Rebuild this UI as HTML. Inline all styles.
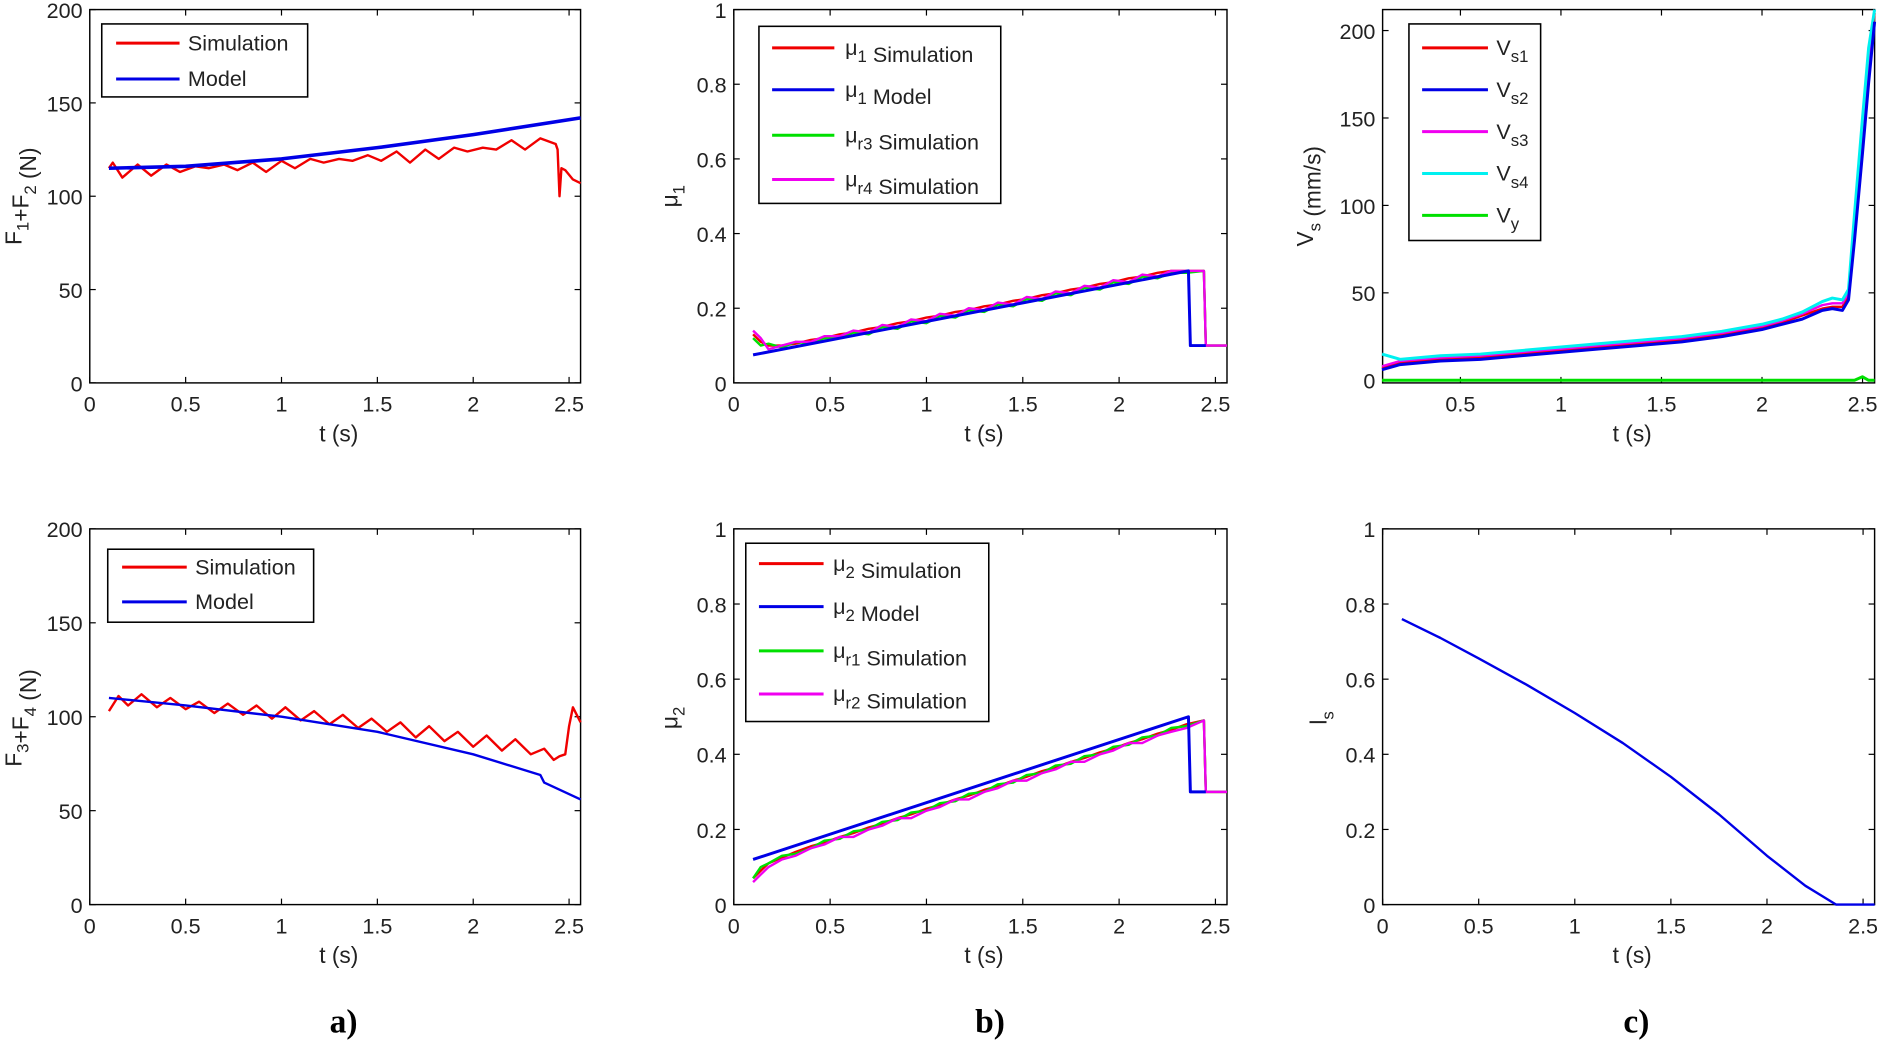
<!DOCTYPE html>
<html><head><meta charset="utf-8"><style>
html,body{margin:0;padding:0;background:#fff;}
svg{display:block;font-family:"Liberation Sans",sans-serif;}
</style></head><body>
<svg id="fig" width="1877" height="1041" viewBox="0 0 1568 870" preserveAspectRatio="none" xmlns="http://www.w3.org/2000/svg"></svg>
<script>
// ---- data ----
const tA=[0.10,0.12,0.17,0.25,0.32,0.40,0.47,0.55,0.62,0.70,0.77,0.85,0.92,1.00,1.07,1.15,1.22,1.30,1.37,1.45,1.52,1.60,1.67,1.75,1.82,1.90,1.97,2.05,2.12,2.20,2.27,2.35,2.43,2.44,2.45,2.46,2.48,2.52,2.56];
const simF12=[115,118,110,117,111,117,113,116,115,117,114,118,113,119,115,120,118,120,119,122,119,124,118,125,120,126,124,126,125,130,125,131,128,125,100,115,114,109,107];
const tModelA=[0.1,0.5,1,1.5,2,2.56];
const modelF12=[115,116,120,126,133,142];
const tB=[0.10,0.15,0.20,0.27,0.35,0.42,0.50,0.57,0.65,0.72,0.80,0.87,0.95,1.02,1.10,1.17,1.25,1.32,1.40,1.47,1.55,1.62,1.70,1.77,1.85,1.92,2.00,2.07,2.15,2.22,2.30,2.37,2.42,2.45,2.48,2.50,2.52,2.56];
const simF34=[103,111,106,112,105,110,104,108,102,107,101,106,99,105,98,103,96,101,94,99,92,97,89,95,87,92,84,90,82,88,80,83,77,79,80,95,105,97];
const tModelB=[0.1,0.5,1,1.5,2,2.35,2.37,2.56];
const modelF34=[110,106,100,92,80,69,65,56];
const tMu=[0.10,0.14,0.18,0.25,0.32,0.40,0.47,0.55,0.62,0.70,0.77,0.85,0.92,1.00,1.07,1.15,1.22,1.30,1.37,1.45,1.52,1.60,1.67,1.75,1.82,1.90,1.97,2.05,2.12,2.20,2.27,2.35,2.44,2.45,2.56];
const mu1Sim=[0.13,0.11,0.10,0.10,0.105,0.115,0.12,0.13,0.135,0.145,0.15,0.16,0.165,0.175,0.18,0.19,0.195,0.205,0.21,0.22,0.225,0.235,0.24,0.25,0.255,0.265,0.27,0.28,0.285,0.295,0.30,0.30,0.30,0.10,0.10];
const mur3Sim=[0.12,0.10,0.105,0.095,0.11,0.105,0.12,0.12,0.135,0.13,0.15,0.145,0.165,0.16,0.18,0.175,0.195,0.19,0.21,0.205,0.225,0.22,0.24,0.235,0.255,0.25,0.27,0.265,0.285,0.28,0.295,0.295,0.30,0.10,0.10];
const mur4Sim=[0.14,0.12,0.09,0.10,0.11,0.11,0.125,0.125,0.14,0.135,0.155,0.15,0.17,0.165,0.185,0.18,0.20,0.195,0.215,0.21,0.23,0.225,0.245,0.24,0.26,0.255,0.275,0.27,0.29,0.285,0.30,0.30,0.30,0.10,0.10];
const tMuModel=[0.1,2.36,2.37,2.45];
const mu1Model=[0.075,0.30,0.10,0.10];
const mu2Sim=[0.07,0.09,0.11,0.125,0.14,0.155,0.165,0.18,0.19,0.205,0.215,0.23,0.24,0.255,0.265,0.28,0.29,0.305,0.315,0.33,0.34,0.355,0.365,0.38,0.39,0.405,0.415,0.43,0.44,0.455,0.465,0.48,0.49,0.30,0.30];
const mur1Sim=[0.07,0.10,0.11,0.13,0.135,0.15,0.17,0.175,0.195,0.20,0.22,0.225,0.245,0.25,0.27,0.275,0.295,0.30,0.32,0.325,0.345,0.35,0.37,0.375,0.395,0.40,0.42,0.425,0.445,0.45,0.47,0.475,0.49,0.30,0.30];
const mur2Sim=[0.06,0.08,0.10,0.12,0.13,0.15,0.16,0.18,0.18,0.20,0.21,0.23,0.23,0.25,0.26,0.28,0.28,0.30,0.31,0.33,0.33,0.35,0.36,0.38,0.38,0.40,0.41,0.43,0.43,0.45,0.46,0.47,0.49,0.30,0.30];
const mu2Model=[0.12,0.50,0.30,0.30];
const tV=[0.11,0.2,0.4,0.6,0.8,1.0,1.2,1.4,1.6,1.8,2.0,2.1,2.2,2.3,2.35,2.4,2.43,2.46,2.5,2.53,2.56];
const vs1=[7,10,12,13,15,17,19,21,23,26,30,33,37,41,42,42,48,85,140,180,210];
const vs2=[6,9,11,12,14,16,18,20,22,25,29,32,35,40,41,40,46,80,130,170,205];
const vs3=[8,11,13,14,16,18,20,22,24,27,31,34,38,43,44,44,50,90,145,185,212];
const vs4=[15,12,14,15,17,19,21,23,25,28,32,35,39,45,47,46,52,95,150,190,212];
const vy=[0,0,0,0,0,0,0,0,0,0,0,0,0,0,0,0,0,0,2,0,0];
const tL=[0.1,0.3,0.5,0.75,1.0,1.25,1.5,1.75,2.0,2.2,2.36,2.56];
const ls=[0.76,0.71,0.655,0.585,0.51,0.43,0.34,0.24,0.13,0.05,0,0];
const xTicks=[0,0.5,1,1.5,2,2.5];
const xTickLabels=["0","0.5","1","1.5","2","2.5"];
const yTicksF=[0,50,100,150,200];
const yTicksMu=[0,0.2,0.4,0.6,0.8,1];
const yTickMuLabels=["0","0.2","0.4","0.6","0.8","1"];
const yTicksV=[0,50,100,150,200];

const NS="http://www.w3.org/2000/svg";
const svg=document.getElementById('fig');
function mk(tag,attrs,parent){const e=document.createElementNS(NS,tag);for(const k in attrs)e.setAttribute(k,attrs[k]);(parent||svg).appendChild(e);return e;}

function panel(name,box,xd,yd,yt,ytl){
  const g=mk('g',{});
  
  
  const sx=v=>box.l+(v-xd[0])/(xd[1]-xd[0])*(box.r-box.l);
  const sy=v=>box.b-(v-yd[0])/(yd[1]-yd[0])*(box.b-box.t);
  const f=mk('rect',{x:box.l,y:box.t,width:box.r-box.l,height:box.b-box.t,fill:'#fff',stroke:'#000','stroke-width':1.2},g);
  
  
  xTicks.forEach((v,i)=>{
    if(v<xd[0]-1e-9||v>xd[1])return;
    const x=sx(v);
    mk('line',{x1:x,x2:x,y1:box.b,y2:box.b-5,stroke:'#000'},g);
    mk('line',{x1:x,x2:x,y1:box.t,y2:box.t+5,stroke:'#000'},g);
    const t=mk('text',{x:x,y:box.b+24,'font-size':18,'text-anchor':'middle',fill:'#222'},g);
    t.textContent=xTickLabels[i];
    
    
  });
  yt.forEach((v,i)=>{
    const y=sy(v);
    mk('line',{x1:box.l,x2:box.l+5,y1:y,y2:y,stroke:'#000'},g);
    mk('line',{x1:box.r,x2:box.r-5,y1:y,y2:y,stroke:'#000'},g);
    const t=mk('text',{x:box.l-6,y:y+7,'font-size':18,'text-anchor':'end',fill:'#222'},g);
    t.textContent=ytl[i];
    
    
  });
  const xl=mk('text',{x:(box.l+box.r)/2+3,y:box.b+49,'font-size':19,'text-anchor':'middle',fill:'#222'},g);
  xl.textContent='t (s)';
  
  
  return {g,sx,sy,box};
}
function series(p,name,xs,ys,color,w){
  const d=xs.map((x,i)=>(i?'L':'M')+p.sx(x).toFixed(1)+' '+p.sy(ys[i]).toFixed(1)).join(' ');
  const e=mk('path',{d:d,fill:'none',stroke:color,'stroke-width':w||2,'stroke-linejoin':'round'},p.g);
  
  
}
function ylabel(x,y,html){
  const t=mk('text',{x:0,y:0,'font-size':19,'text-anchor':'middle',fill:'#222',transform:`translate(${x},${y}) rotate(-90)`});
  t.innerHTML=html;
  
  
}
function legend(name,x,y,w,h,items,lx1,lx2,tx){
  const g=mk('g',{});
  
  
  mk('rect',{x:x,y:y,width:w,height:h,fill:'#fff',stroke:'#000','stroke-width':1.3},g);
  items.forEach(it=>{
    const l=mk('line',{x1:lx1,x2:lx2,y1:it[0],y2:it[0],stroke:it[1],'stroke-width':2.5},g);
    
    
    const t=mk('text',{x:tx,y:it[0]+6,'font-size':18,fill:'#222'},g);
    t.innerHTML=it[2];
    
    
  });
}
const sub=(s)=>`<tspan dy="6" font-size="14">${s}</tspan><tspan dy="-6"></tspan>`;

// a-top
let p=panel('panel-f1-f2',{l:75,r:485,t:8,b:320},[0,2.56],[0,200],yTicksF,yTicksF.map(String));
series(p,'simulation-line',tA,simF12,'#f00000',2);
series(p,'model-line',tModelA,modelF12,'#0000e6',3);
ylabel(18,164,'F'+sub('1')+'+F'+sub('2')+' (N)');
legend('legend-f12',85,20,172,61,[[36,'#f00000','Simulation'],[66,'#0000e6','Model']],97,150,157);

// a-bottom
p=panel('panel-f3-f4',{l:75,r:485,t:442,b:756},[0,2.56],[0,200],yTicksF,yTicksF.map(String));
series(p,'simulation-line',tB,simF34,'#f00000',2);
series(p,'model-line',tModelB,modelF34,'#0000e6',2);
ylabel(18,600,'F'+sub('3')+'+F'+sub('4')+' (N)');
legend('legend-f34',90,459,172,61,[[474,'#f00000','Simulation'],[503,'#0000e6','Model']],102,156,163);

// b-top
p=panel('panel-mu1',{l:613,r:1025,t:8,b:320},[0,2.56],[0,1],yTicksMu,yTickMuLabels);
series(p,'mu1-simulation',tMu,mu1Sim,'#f00000',2);
series(p,'mur3-simulation',tMu,mur3Sim,'#00e000',2);
series(p,'mur4-simulation',tMu,mur4Sim,'#f000f0',2);
series(p,'mu1-model',tMuModel,mu1Model,'#0000e6',2.5);
ylabel(566,164,'μ'+sub('1'));
legend('legend-mu1',634,22,202,148,[[40,'#f00000','μ'+sub('1')+' Simulation'],[75,'#0000e6','μ'+sub('1')+' Model'],[113,'#00e000','μ'+sub('r3')+' Simulation'],[150,'#f000f0','μ'+sub('r4')+' Simulation']],645,697,706);

// b-bottom
p=panel('panel-mu2',{l:613,r:1025,t:442,b:756},[0,2.56],[0,1],yTicksMu,yTickMuLabels);
series(p,'mu2-simulation',tMu,mu2Sim,'#f00000',2);
series(p,'mur1-simulation',tMu,mur1Sim,'#00e000',2);
series(p,'mur2-simulation',tMu,mur2Sim,'#f000f0',2);
series(p,'mu2-model',tMuModel,mu2Model,'#0000e6',2.5);
ylabel(566,600,'μ'+sub('2'));
legend('legend-mu2',623,454,203,149,[[471,'#f00000','μ'+sub('2')+' Simulation'],[507,'#0000e6','μ'+sub('2')+' Model'],[544,'#00e000','μ'+sub('r1')+' Simulation'],[580,'#f000f0','μ'+sub('r2')+' Simulation']],634,688,696);

// c-top
p=panel('panel-vs',{l:1155,r:1566,t:8,b:320},[0.113,2.56],[-1.5,212],yTicksV,yTicksV.map(String));
series(p,'vy-line',tV,vy,'#00e000',2.5);
series(p,'vs1-line',tV,vs1,'#f00000',2);
series(p,'vs3-line',tV,vs3,'#f000f0',2);
series(p,'vs4-line',tV,vs4,'#00f0f0',2.5);
series(p,'vs2-line',tV,vs2,'#0000e6',2.5);
ylabel(1097,164,'V'+sub('s')+' (mm/s)');
legend('legend-vs',1177,20,110,181,[[40,'#f00000','V'+sub('s1')],[75,'#0000e6','V'+sub('s2')],[110,'#f000f0','V'+sub('s3')],[145,'#00f0f0','V'+sub('s4')],[180,'#00e000','V'+sub('y')]],1188,1243,1250);

// c-bottom
p=panel('panel-ls',{l:1155,r:1566,t:442,b:756},[0,2.56],[0,1],yTicksMu,yTickMuLabels);
series(p,'ls-line',tL,ls,'#0000e6',2);
ylabel(1108,600,'l'+sub('s'));

// panel captions
[['a)',287],['b)',827],['c)',1367]].forEach(c=>{
  const t=mk('text',{x:c[1],y:863,'font-size':28,'font-weight':'bold','text-anchor':'middle','font-family':'"Liberation Serif",serif',fill:'#000'});
  t.textContent=c[0];
  
  
});
</script>
</body></html>
